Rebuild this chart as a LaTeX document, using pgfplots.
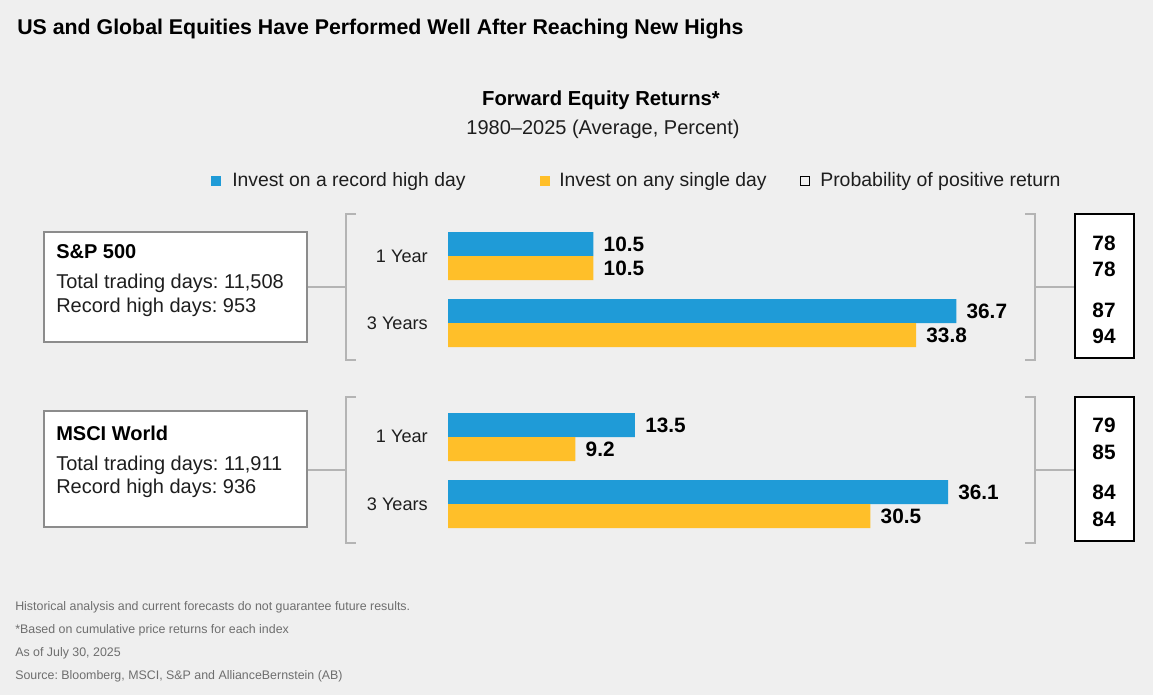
\documentclass[border=0pt]{standalone}
\usepackage{pgfplots}
\pgfplotsset{compat=1.18}
\usepackage{fontspec}
\setmainfont{Liberation Sans}
\newfontfamily\titlefont{Liberation Sans Bold}
\frenchspacing

\definecolor{bg}{HTML}{EFEFEF}
\definecolor{recblue}{HTML}{1F9BD7}
\definecolor{anyyel}{HTML}{FFBF29}
\definecolor{linegray}{HTML}{B4B4B4}
\definecolor{boxgray}{HTML}{8C8C8C}
\definecolor{notegray}{HTML}{6E6E6E}
\definecolor{txt}{HTML}{1E1E1E}

\pgfplotsset{
  panel/.style={
    scale only axis, anchor=south west,
    width=436.3pt, height=109.5pt,
    xmin=0, xmax=42, ymin=-0.552, ymax=1.627,
    hide axis, clip=false,
    xbar, bar width=18pt,
    nodes near coords, point meta=x,
    nodes near coords style={font=\bfseries\fontsize{15.6}{18}\selectfont,
      anchor=west, inner sep=0pt, xshift=7.5pt, text=black},
    /pgf/number format/fixed,
    /pgf/number format/precision=1,
    /pgf/number format/fixed zerofill,
    /pgf/number format/assume math mode=true,
  },
}

\begin{document}
\begin{tikzpicture}
\begin{scope}[x=0.75pt,y=-0.75pt]
\fill[bg] (0,0) rectangle (1153,695);

% title and headings
\node[anchor=base west, inner sep=0, font=\titlefont\fontsize{16}{18}\selectfont] at (17,35)
  {US and Global Equities Have Performed Well After Reaching New Highs};
\node[anchor=base, inner sep=0, font=\bfseries\fontsize{15.2}{18}\selectfont] at (601,106)
  {Forward Equity Returns*};
\node[anchor=base, inner sep=0, font=\fontsize{15}{18}\selectfont, text=txt] at (603,135)
  {1980–2025 (Average, Percent)};

% legend
\fill[recblue] (211,176) rectangle (221,186);
\node[anchor=base west, inner sep=0, font=\fontsize{14.5}{17}\selectfont, text=txt] at (232,187) {Invest on a record high day};
\fill[anyyel] (540,176) rectangle (550,186);
\node[anchor=base west, inner sep=0, font=\fontsize{14.5}{17}\selectfont, text=txt] at (559,187) {Invest on any single day};
\draw[black, line width=1.4pt] (800.5,176.5) rectangle (809.5,185.5);
\node[anchor=base west, inner sep=0, font=\fontsize{14.6}{17}\selectfont, text=txt] at (820,187) {Probability of positive return};

% panel 1 frame
\draw[linegray, line width=0.9pt] (356,214) -- (346,214) -- (346,360) -- (356,360);
\draw[linegray, line width=0.9pt] (307,287) -- (346,287);
\draw[linegray, line width=0.9pt] (1025,214) -- (1035,214) -- (1035,360) -- (1025,360);
\draw[linegray, line width=0.9pt] (1035,287) -- (1075,287);
\draw[black, line width=1.5pt, fill=white] (1075,214) rectangle (1134,358);
\draw[boxgray, line width=1.5pt, fill=white] (44,232) rectangle (307,342);
\node[anchor=base west, inner sep=0, font=\bfseries\fontsize{15}{18}\selectfont] at (56,259) {S\&P 500};
\node[anchor=base west, inner sep=0, font=\fontsize{15}{18}\selectfont, text=txt] at (56,289) {Total trading days: 11,508};
\node[anchor=base west, inner sep=0, font=\fontsize{15}{18}\selectfont, text=txt] at (56,312) {Record high days: 953};
\node[anchor=east, inner sep=0, font=\fontsize{13.6}{16}\selectfont, text=txt] at (428,256) {1 Year};
\node[anchor=east, inner sep=0, font=\fontsize{13.6}{16}\selectfont, text=txt] at (428,323) {3 Years};
\begin{scope}[every node/.style={inner sep=0, font=\bfseries\fontsize{15.6}{18}\selectfont}]
\node at (1104,243) {78};
\node at (1104,269) {78};
\node at (1104,310) {87};
\node at (1104,336) {94};
\end{scope}

% panel 2 frame
\draw[linegray, line width=0.9pt] (356,397) -- (346,397) -- (346,543) -- (356,543);
\draw[linegray, line width=0.9pt] (307,470) -- (346,470);
\draw[linegray, line width=0.9pt] (1025,397) -- (1035,397) -- (1035,543) -- (1025,543);
\draw[linegray, line width=0.9pt] (1035,470) -- (1075,470);
\draw[black, line width=1.5pt, fill=white] (1075,397) rectangle (1134,541);
\draw[boxgray, line width=1.5pt, fill=white] (44,411) rectangle (307,527);
\node[anchor=base west, inner sep=0, font=\bfseries\fontsize{15}{18}\selectfont] at (56,440) {MSCI World};
\node[anchor=base west, inner sep=0, font=\fontsize{15}{18}\selectfont, text=txt] at (56,470) {Total trading days: 11,911};
\node[anchor=base west, inner sep=0, font=\fontsize{15}{18}\selectfont, text=txt] at (56,493) {Record high days: 936};
\node[anchor=east, inner sep=0, font=\fontsize{13.6}{16}\selectfont, text=txt] at (428,436) {1 Year};
\node[anchor=east, inner sep=0, font=\fontsize{13.6}{16}\selectfont, text=txt] at (428,504) {3 Years};
\begin{scope}[every node/.style={inner sep=0, font=\bfseries\fontsize{15.6}{18}\selectfont}]
\node at (1104,425) {79};
\node at (1104,452) {85};
\node at (1104,492) {84};
\node at (1104,519) {84};
\end{scope}

% notes
\begin{scope}[every node/.style={anchor=base west, inner sep=0, font=\fontsize{9.3}{11}\selectfont, text=notegray}]
\node at (15,610) {Historical analysis and current forecasts do not guarantee future results.};
\node at (15,633) {*Based on cumulative price returns for each index};
\node at (15,656) {As of July 30, 2025};
\node at (15,679) {Source: Bloomberg, MSCI, S\&P and AllianceBernstein (AB)};
\end{scope}
\end{scope}

% S&P 500 bars
\begin{axis}[panel, at={(336pt,-270pt)}]
\addplot[fill=recblue, draw=none, bar shift=9pt] coordinates {(10.5,1) (36.7,0)};
\addplot[fill=anyyel, draw=none, bar shift=-9pt] coordinates {(10.5,1) (33.8,0)};
\end{axis}

% MSCI World bars
\begin{axis}[panel, at={(336pt,-405.75pt)}]
\addplot[fill=recblue, draw=none, bar shift=9pt] coordinates {(13.5,1) (36.1,0)};
\addplot[fill=anyyel, draw=none, bar shift=-9pt] coordinates {(9.2,1) (30.5,0)};
\end{axis}
\end{tikzpicture}
\end{document}
